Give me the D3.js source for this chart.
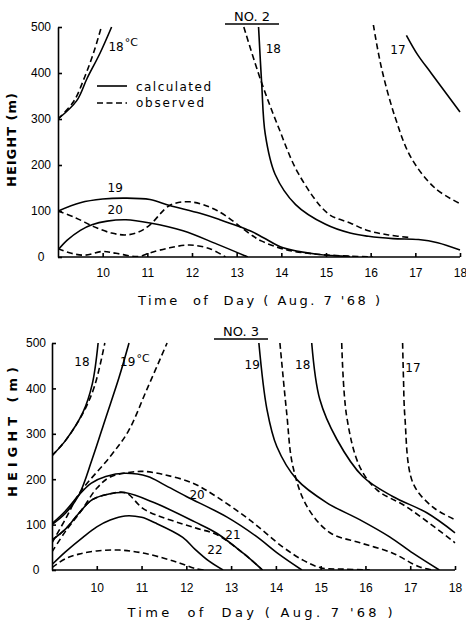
<!DOCTYPE html>
<html>
<head>
<meta charset="utf-8">
<script src="https://cdn.jsdelivr.net/npm/d3@7"></script>
<style>
	body { margin: 0; background: #fff; }
	svg { font-family: "DejaVu Sans", sans-serif; }
	.axis path, .axis line { stroke: #000; stroke-width: 1.6; }
	.axis text { font-size: 12px; fill: #000; }
	.curve { fill: none; stroke: #000; stroke-width: 1.6; }
	.dashed { stroke-dasharray: 6 3.5; }
	.lbl { font-size: 12px; }
</style>
</head>
<body>
<svg width="466" height="625"></svg>
<script>

/*
	values, (hour of day, height m)
*/
const TIME_TICKS = [10, 11, 12, 13, 14, 15, 16, 17, 18];
const HEIGHT_TICKS = [0, 100, 200, 300, 400, 500];

// NO. 2
const NO2_CALC_18A = [[9,300],[9.42,340],[9.65,388],[9.94,443],[10.2,500]];
const NO2_OBS_18A  = [[9,300],[9.35,338],[9.6,392],[9.8,445],[9.97,500]];
const NO2_CALC_19  = [[9,100],[9.5,118],[10,126],[10.5,128],[11.06,125],[11.5,112],[12.18,95],[12.6,82],[13.3,57],[13.6,42],[14.04,20],[14.8,6],[15.54,1]];
const NO2_OBS_19   = [[9,100],[9.4,85],[9.8,66],[10.2,52],[10.52,48],[10.8,54],[11.06,70],[11.5,112],[11.95,120],[12.56,101],[13.3,50],[13.55,35],[14.1,16],[14.8,6],[15.5,2],[16.05,0]];
const NO2_CALC_20  = [[9,15],[9.2,36],[9.5,58],[9.76,70],[10.1,78],[10.52,81],[11.06,74],[11.8,57],[12.56,28],[13.25,0]];
const NO2_OBS_20   = [[9,18],[9.3,8],[9.6,4],[10,12],[10.3,8],[10.8,1],[11.06,9],[11.5,20],[11.95,26],[12.4,18],[12.75,0]];
const NO2_CALC_18B = [[13.49,500],[13.56,377],[13.64,267],[13.86,180],[14.32,114],[14.99,71],[15.54,52],[15.95,45],[16.5,40],[17.07,38],[17.5,31],[18,15]];
const NO2_OBS_18B  = [[13.16,500],[13.54,384],[13.94,281],[14.39,180],[15.05,94],[15.54,74],[15.95,57],[16.4,48],[16.9,42]];
const NO2_OBS_17   = [[16.06,505],[16.24,412],[16.55,303],[16.91,215],[17.45,149],[18,116]];
const NO2_CALC_17  = [[16.8,482],[17.05,440],[17.36,399],[18,315]];

// NO. 3
const NO3_CALC_18A = [[9,252],[9.3,285],[9.69,347],[9.9,410],[10.03,500]];
const NO3_OBS_18A  = [[9,252],[9.3,285],[9.69,345],[9.95,405],[10.18,500]];
const NO3_CALC_19A = [[9,100],[9.3,125],[9.6,165],[9.9,245],[10.2,335],[10.5,425],[10.72,500]];
const NO3_OBS_19A  = [[9,60],[9.3,112],[9.62,170],[10.3,250],[10.7,305],[11.12,398],[11.57,500]];
const NO3_CALC_20  = [[9,102],[9.3,130],[9.6,165],[9.87,191],[10.2,206],[10.63,213],[11.14,206],[11.5,188],[12,162],[12.9,117],[13.55,75],[14.05,36],[14.58,0]];
const NO3_OBS_20   = [[9,40],[9.3,85],[9.65,130],[10,180],[10.3,205],[10.8,216],[11.07,217],[11.5,210],[12.13,192],[12.68,161],[13.42,110],[14.15,51],[14.6,22],[15,5],[15.5,2],[16.1,0]];
const NO3_CALC_21  = [[9,66],[9.3,90],[9.6,125],[9.9,155],[10.3,168],[10.65,170],[11.29,148],[12.19,106],[12.68,81],[13.27,37],[13.7,0]];
const NO3_OBS_21   = [[9,66],[9.3,90],[9.6,125],[9.9,155],[10.3,168],[10.65,170],[11.07,133],[12.19,93],[12.68,78],[13.27,37],[13.7,0]];
const NO3_CALC_22  = [[9,12],[9.3,40],[9.69,72],[10,95],[10.3,110],[10.63,119],[11,116],[11.3,104],[11.92,72],[12.19,46],[12.5,20],[12.82,0]];
const NO3_OBS_22   = [[9,5],[9.3,25],[9.6,35],[10,42],[10.5,44],[11,38],[11.5,26],[11.86,15],[12.2,3],[12.4,0]];
const NO3_CALC_19B = [[13.62,500],[13.8,354],[14.02,272],[14.47,199],[15.14,148],[15.87,111],[16.54,73],[17.06,37],[17.65,0]];
const NO3_OBS_19B  = [[14.09,500],[14.24,347],[14.38,228],[14.7,139],[15.21,82],[15.88,60],[16.61,37],[17.2,7],[17.5,0]];
const NO3_CALC_18B = [[14.8,500],[14.98,376],[15.36,288],[15.94,206],[16.61,162],[17.37,126],[18,82]];
const NO3_OBS_18B  = [[15.47,500],[15.58,339],[15.87,228],[16.25,177],[16.92,139],[18,60]];
const NO3_OBS_17   = [[16.83,500],[16.85,420],[16.88,339],[17.06,192],[17.5,139],[18,111]];


function whenDocumentLoaded(action) {
	if (document.readyState === "loading") {
		document.addEventListener("DOMContentLoaded", action);
	} else {
		action();
	}
}

class Panel {
	constructor(svg, opt) {
		const x = d3.scaleLinear().domain([9, 18]).range([opt.left, opt.right]);
		const y = d3.scaleLinear().domain([0, 500]).range([opt.bottom, opt.top]);
		const g = svg.append('g');

		const clipId = 'clip' + opt.name.replace(/\W/g, '');
		g.append('clipPath').attr('id', clipId)
			.append('rect')
			.attr('x', opt.left).attr('y', opt.top - 2)
			.attr('width', opt.right - opt.left + 2)
			.attr('height', opt.bottom - opt.top + 2);

		let line = d3.line()
			.x(d => x(d[0]))
			.y(d => y(d[1]))
			.curve(d3.curveCatmullRom.alpha(0.5));

		g.append('g').attr('clip-path', 'url(#' + clipId + ')')
			.selectAll('path')
			.data(opt.series)
			.enter()
			.append('path')
			.attr('class', d => d.dashed ? 'curve dashed' : 'curve')
			.attr('d', d => line(d.pts));

		// axes, ticks point inward like the original
		let xAxis = d3.axisBottom(x).tickValues(TIME_TICKS)
			.tickSize(-4).tickSizeOuter(0).tickPadding(opt.xPad)
			.tickFormat(d3.format('d'));
		let yAxis = d3.axisLeft(y).tickValues(HEIGHT_TICKS)
			.tickSize(-4).tickSizeOuter(0)
			.tickFormat(d3.format('d'));
		g.append('g').attr('class', 'axis')
			.attr('transform', 'translate(0,' + opt.bottom + ')').call(xAxis)
			.select('.domain').attr('d', 'M' + opt.left + ',0H' + opt.right);
		let ya = g.append('g').attr('class', 'axis')
			.attr('transform', 'translate(' + opt.left + ',0)').call(yAxis);
		ya.selectAll('text').attr('text-anchor', 'middle').attr('x', -opt.yLabOff);

		g.append('text')
			.attr('transform', 'translate(' + opt.hx + ',' + opt.hy + ') rotate(-90)')
			.attr('text-anchor', 'middle').attr('dy', '0.35em')
			.attr('textLength', opt.hLen).attr('lengthAdjust', 'spacing')
			.style('font-size', '13px').style('font-weight', 'bold')
			.text('HEIGHT (m)');

		g.append('text')
			.attr('x', opt.tx).attr('y', opt.ty)
			.attr('text-anchor', 'middle').attr('dy', '0.35em')
			.attr('textLength', opt.tLen).attr('lengthAdjust', 'spacing')
			.style('font-size', '13px').style('white-space', 'pre')
			.text("Time  of  Day ( Aug. 7 '68 )");

		// panel title, underlined
		g.append('text')
			.attr('x', opt.nx).attr('y', opt.ny)
			.attr('text-anchor', 'middle').attr('dy', '0.35em')
			.style('font-size', '13px')
			.text(opt.name);
		g.append('line')
			.attr('x1', opt.nx - 27).attr('x2', opt.nx + 27)
			.attr('y1', opt.ny + 8).attr('y2', opt.ny + 8)
			.attr('stroke', '#000').attr('stroke-width', 1.5);

		let labs = g.selectAll('text.lbl')
			.data(opt.labels)
			.enter()
			.append('text')
			.attr('class', 'lbl')
			.attr('x', d => x(d.t)).attr('y', d => y(d.h))
			.attr('text-anchor', 'middle').attr('dy', '0.35em')
			.text(d => d.text);
		labs.filter(d => d.deg)
			.append('tspan')
			.attr('dy', '-0.4em').attr('dx', '1')
			.style('font-size', '11px')
			.text('°C');

		if (opt.legend) {
			let lg = g.append('g').attr('transform', 'translate(97,86)');
			lg.append('line').attr('x1', 0).attr('x2', 30).attr('y1', 0).attr('y2', 0)
				.attr('class', 'curve');
			lg.append('line').attr('x1', 0).attr('x2', 30).attr('y1', 17).attr('y2', 17)
				.attr('class', 'curve dashed');
			lg.append('text').attr('x', 39).attr('y', 1).attr('dy', '0.35em')
				.attr('textLength', 75).attr('lengthAdjust', 'spacing')
				.style('font-size', '12px').text('calculated');
			lg.append('text').attr('x', 39).attr('y', 17).attr('dy', '0.35em')
				.attr('textLength', 68).attr('lengthAdjust', 'spacing')
				.style('font-size', '12px').text('observed');
		}
	}
}

whenDocumentLoaded(() => {
	let svg = d3.select('svg');

	const top = new Panel(svg, {
		name: 'NO. 2', left: 58, right: 460, top: 27, bottom: 257,
		xPad: 11, yLabOff: 17,
		hx: 11, hy: 140, hLen: 94,
		tx: 259, ty: 300, tLen: 242,
		nx: 252, ny: 16,
		legend: true,
		series: [
			{pts: NO2_CALC_18A}, {pts: NO2_OBS_18A, dashed: true},
			{pts: NO2_CALC_19}, {pts: NO2_OBS_19, dashed: true},
			{pts: NO2_CALC_20}, {pts: NO2_OBS_20, dashed: true},
			{pts: NO2_CALC_18B}, {pts: NO2_OBS_18B, dashed: true},
			{pts: NO2_CALC_17}, {pts: NO2_OBS_17, dashed: true}
		],
		labels: [
			{text: '18', t: 10.46, h: 458, deg: true},
			{text: '19', t: 10.28, h: 150},
			{text: '20', t: 10.28, h: 102},
			{text: '18', t: 13.82, h: 452},
			{text: '17', t: 16.61, h: 450}
		]
	});

	const bottom = new Panel(svg, {
		name: 'NO. 3', left: 52, right: 455, top: 343, bottom: 570,
		xPad: 13, yLabOff: 16,
		hx: 12, hy: 432, hLen: 130,
		tx: 260, ty: 612, tLen: 265,
		nx: 241, ny: 331,
		legend: false,
		series: [
			{pts: NO3_CALC_18A}, {pts: NO3_OBS_18A, dashed: true},
			{pts: NO3_CALC_19A}, {pts: NO3_OBS_19A, dashed: true},
			{pts: NO3_CALC_20}, {pts: NO3_OBS_20, dashed: true},
			{pts: NO3_CALC_21}, {pts: NO3_OBS_21, dashed: true},
			{pts: NO3_CALC_22}, {pts: NO3_OBS_22, dashed: true},
			{pts: NO3_CALC_19B}, {pts: NO3_OBS_19B, dashed: true},
			{pts: NO3_CALC_18B}, {pts: NO3_OBS_18B, dashed: true},
			{pts: NO3_OBS_17, dashed: true}
		],
		labels: [
			{text: '18', t: 9.67, h: 458},
			{text: '19', t: 10.85, h: 458, deg: true},
			{text: '20', t: 12.24, h: 165},
			{text: '21', t: 13.04, h: 77},
			{text: '22', t: 12.64, h: 44},
			{text: '19', t: 13.47, h: 452},
			{text: '18', t: 14.6, h: 452},
			{text: '17', t: 17.06, h: 445}
		]
	});
});

</script>
</body>
</html>
